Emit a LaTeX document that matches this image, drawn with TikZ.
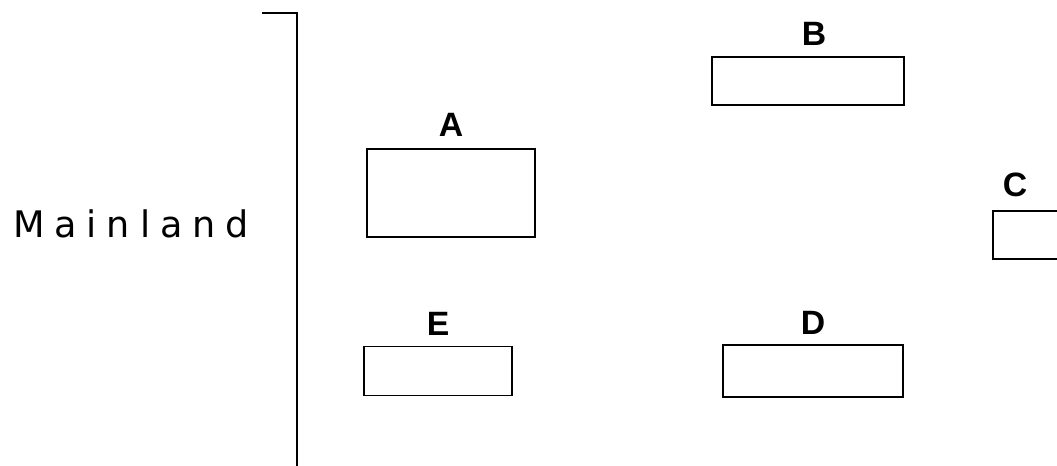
\documentclass[tikz,border=0pt]{standalone}
\usepackage{fontspec}
\setmainfont{Liberation Sans}
\newfontfamily\landfont{DejaVu Sans}
\usetikzlibrary{positioning}

\tikzset{
  island/.style={shape=rectangle, draw, line width=1.3pt, inner sep=0pt},
  islandname/.style={inner sep=0pt, font=\fontsize{24}{24}\selectfont\bfseries},
}

\begin{document}
\begin{tikzpicture}[x=0.025cm, y=-0.025cm]
	% frame of the picture (pixels of the reference)
	\useasboundingbox (0, 0) rectangle (1057, 466);
	\clip (0, 0) rectangle (1057, 466);
	% Mainland and its coast:
	\node[anchor=base west, inner sep=0pt, font=\landfont\fontsize{26}{26}\selectfont\addfontfeatures{LetterSpace=27}] (mainland) at (13, 237){Mainland};
	\coordinate (coasttop) at (262, 13);
	\coordinate (coastend) at (297, 470);
	\draw[line width=1.3pt] (coasttop) -| (coastend);
	% Islands:
	\node[island, minimum width=4.2cm, minimum height=2.2cm] (boxA) at (451, 193){};
	\node[island, minimum width=4.8cm, minimum height=1.2cm] (boxB) at (808, 81){};
	\node[island, anchor=north west, minimum width=3cm, minimum height=1.2cm] (boxC) at (992, 210){};
	\node[island, minimum width=4.5cm, minimum height=1.3cm] (boxD) at (813, 371){};
	\node[island, minimum width=3.7cm, minimum height=1.225cm] (boxE) at (438, 371){};
	% Names:
	\node[islandname, above=0.28cm of boxA] (nameA) {A};
	\node[islandname, above=0.25cm of boxB, xshift=0.15cm] (nameB) {B};
	\node[islandname, anchor=south] (nameC) at (1015, 197){C};
	\node[islandname, above=0.23cm of boxD] (nameD) {D};
	\node[islandname, above=0.25cm of boxE] (nameE) {E};
\end{tikzpicture}
\end{document}
